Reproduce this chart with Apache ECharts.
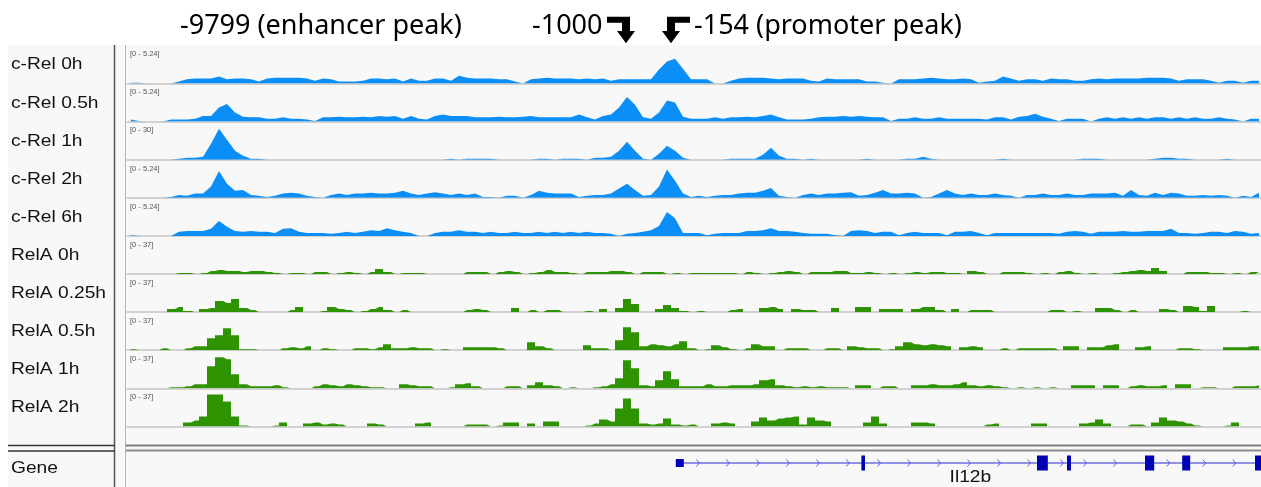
<!DOCTYPE html>
<html>
<head>
<meta charset="utf-8">
<title>c-Rel / RelA binding at Il12b</title>
<script src="https://cdn.jsdelivr.net/npm/echarts@6/dist/echarts.min.js"></script>
<style>
  html, body { margin: 0; padding: 0; background: #ffffff; }
  #chart { width: 1261px; height: 487px; }
</style>
</head>
<body>
<div id="chart"></div>
<script>
// ---- Track data: coverage per 8-px genomic bin, in each track's own units ----
const trackNames = ['c-Rel 0h', 'c-Rel 0.5h', 'c-Rel 1h', 'c-Rel 2h', 'c-Rel 6h',
                    'RelA 0h', 'RelA 0.25h', 'RelA 0.5h', 'RelA 1h', 'RelA 2h'];
const trackMax = [5.24, 5.24, 30, 5.24, 5.24, 37, 37, 37, 37, 37];
const rangeLabels = ['[0 - 5.24]', '[0 - 5.24]', '[0 - 30]', '[0 - 5.24]', '[0 - 5.24]',
                     '[0 - 37]', '[0 - 37]', '[0 - 37]', '[0 - 37]', '[0 - 37]'];

const cRel_0h = [
  0.1,0.1,0,0,0,0,0.3,0.6,0.7,0.7, 0.7,1.0,0.6,0.7,0.7,0.6,0.3,0.7,0.8,0.8,
  0.8,0.8,0.7,0.4,0.7,0.6,0.3,0.3,0.3,0.4, 0.7,0.7,0.6,0.7,0.3,0.7,0.4,0.4,0.7,0.7,
  0.4,1.1,0.8,0.7,0.7,0.7,0.6,0.6,0.3,0, 0.6,0.7,0.8,0.7,0.7,0.7,0.6,0.7,0.6,0.7,
  0.4,0.6,0.6,0.6,0.6,0.6,2.0,3.1,3.5,2.1, 0.6,0.6,0.6,0,0,0.4,0.7,0.8,0.8,0.8,
  0.7,0.6,0.7,0.7,0.7,0.4,0.3,0.7,0.6,0.6, 0.6,0.6,0.3,0.3,0.1,0,0.6,0.6,0.6,0.7,
  0.8,0.7,0.6,0.6,0.7,0.6,0.1,0.3,0.4,1.0, 0.7,0.4,0.6,0.6,0.4,0.7,0.6,0.6,0.4,0.4,
  0.6,0.7,0.6,0.7,0.7,0.7,0.7,0.8,0.8,0.8, 0.7,0.4,0.6,0.6,0.6,0.4,0.1,0.4,0.4,0.1,
  0.4,0.4
];
const cRel_05h = [
  0.3,0.1,0,0,0,0.3,0.3,0.3,0.4,0.8, 0.8,2.0,2.5,1.3,0.7,0.6,0.6,0.4,0.4,0.6,
  0.4,0.4,0.3,0.1,0.6,0.6,0.7,0.6,0.6,0.7, 0.6,0.8,0.7,0.8,0.4,0.8,0.4,0.3,0.8,1.0,
  0.8,0.8,0.8,0.6,0.6,0.6,0.7,0.6,0.6,0.7, 0.8,0.6,0.6,0.6,0.6,0.6,1.0,0.6,0.3,0.8,
  1.0,2.0,3.5,2.4,0.6,0.4,1.3,3.0,2.7,0.7, 0.4,0.4,0.4,0.6,0.4,0.6,0.6,0.7,0.6,0.8,
  1.0,0.6,0.3,0.3,0.3,0.4,0.6,0.7,0.7,0.8, 0.7,0.8,0.7,0.6,0.6,0.1,0.4,0.4,0.6,0.4,
  0.4,0.6,0.4,0.4,0.4,0.4,0.4,0.3,0.6,0.6, 0.3,0.7,0.8,1.1,0.7,0.4,0.1,0.4,0.4,0.4,
  0,0.4,0.6,0.4,0.6,0.4,0.6,0.4,0.6,0.6, 0.4,0.6,0.4,0.6,0.4,0.4,0.6,0.4,0.3,0,
  0.4,0.4
];
const cRel_1h = [
  0,0,0,0,0,0,0.8,1.6,1.6,2.4, 13,25.1,16.2,7.3,3.2,0.8,0.8,0,0,0,
  0,0,0,0,0,0,0,0,0,0, 0,0,0,0,0,0,0,0,0,0,
  0.8,0,0.8,0.8,0.8,0.8,0,0,0,0, 0,0.8,0.8,0,0.8,0.8,0.8,0,1.6,1.6,
  2.4,7.3,14.6,7.3,0.8,0,4.9,11.4,7.3,1.6, 0,0,0,0,0,0.8,0.8,0.8,0.8,4.1,
  9.7,3.2,0.8,0.8,0,0.8,0,0,0,0, 0,0,0.8,0,0,0,0,0.8,0.8,2.4,
  0.8,0,0,0,0,0,0,0,0,0.8, 0,0,0,0,0,0,0,0,0,0.8,
  0.8,0.8,0,0,0,0,0,0,0.8,1.6, 1.6,0.8,0.8,0,0,0,0,0.8,0,0,
  0,0.8
];
const cRel_2h = [
  0,0,0,0,0,0.1,0.4,0.3,0.6,0.6, 1.6,3.8,2.0,1.0,1.1,0.4,0.3,0.1,0.3,0.6,
  0.7,0.6,0.3,0.1,0,0.4,0.6,0.4,0.6,0.6, 0.7,0.6,0.6,0.7,1.0,0.6,0.4,0.6,0.8,0.6,
  0.4,0.6,0.4,0.6,0.1,0.1,0,0.3,0.3,0, 0.4,1.0,0.7,0.6,0.6,0.6,0.1,0.3,0.4,0.4,
  0.6,1.3,2.0,1.1,0.3,0.4,1.6,4.0,2.4,0.6, 0.1,0.3,0.1,0.3,0.4,0.4,0.6,0.7,0.7,1.0,
  1.4,0.3,0.1,0,0.4,0.6,0.4,0.6,0.6,0.7, 0.8,0.3,0.4,0.7,1.1,0.6,0.6,0.7,0.6,0,
  0.1,0.6,1.1,0.6,0.4,0.6,0.4,0.4,0.6,0.4, 0.3,0,0.4,0.4,0.6,0.4,0.4,0.6,0.4,0.4,
  0.6,0.6,0.6,0.7,0.3,1.1,0.4,0.3,0.7,0.4, 0.7,0.6,0.3,0.3,0.4,0.3,0.4,0.3,0,0.3,
  0.1,0.7
];
const cRel_6h = [
  0.1,0,0,0,0,0,0.6,0.7,0.7,0.7, 1.0,2.1,1.3,0.7,0.6,0.7,0.6,0.6,0.4,1.0,
  1.1,0.6,0.4,0.4,0.4,0.3,0.4,0.6,0.4,0.6, 0.8,0.7,1.1,0.8,0.6,0.4,0,0,0.4,0.6,
  0.6,0.8,0.6,0.6,0.4,0.6,0.4,0.4,0.6,0.4, 0.4,0.6,0.4,0.6,0.4,0.6,0.4,0.6,0.4,0.4,
  0.3,0,0.3,0.4,0.6,0.8,1.4,3.4,2.5,0.4, 0.4,0.4,0.1,0.3,0.4,0.4,0.4,0.7,0.7,0.8,
  1.1,0.7,0.7,0.6,0.4,0.3,0.3,0.3,0.1,0, 0.7,0.8,0.7,0.4,0.6,0.6,0.1,0.4,0.6,0.4,
  0.4,0.4,0.1,0.6,0.6,0.7,0.4,0.1,0.4,0.4, 0.4,0.4,0.4,0.4,0.4,0.4,0.3,0.6,0.7,0.6,
  0.3,0.6,0.6,0.6,0.7,0.6,0.6,0.7,0.7,0.7, 1.0,0.4,0.4,0.3,0.4,0.6,0.6,0.4,0.7,0.6,
  0.3,0.4
];
const relA_0h = [
  0,0,0,0,0,0,1,1,0,1, 3,4,3,3,2,3,3,2,1,0,
  1,1,0,2,2,0,1,2,1,0, 2,5,2,0,1,1,1,0,0,0,
  0,0,2,2,2,0,2,3,2,0, 1,2,4,2,2,1,0,2,2,2,
  3,3,2,0,2,2,2,0,1,0, 1,1,1,1,1,1,0,2,1,0,
  1,2,3,2,0,2,2,2,3,3, 1,1,2,1,0,1,0,1,2,1,
  2,2,1,1,0,3,2,0,0,2, 2,2,1,0,1,0,2,3,1,0,
  1,0,0,1,2,3,4,3,6,3, 0,0,2,2,2,1,1,0,1,0,
  2,2
];
const relA_025h = [
  0,0,0,0,0,3,5,1,0,3, 4,11,9,13,4,2,0,0,0,0,
  2,5,0,0,1,5,3,2,0,1, 3,5,2,0,2,0,0,0,0,0,
  0,0,2,3,2,0,0,0,4,0, 2,0,2,2,0,0,0,1,0,3,
  0,4,13,8,0,0,3,7,4,1, 0,1,0,0,0,2,3,0,0,4,
  5,3,0,3,2,2,0,0,4,0, 0,5,5,0,3,3,3,0,3,5,
  5,2,0,3,0,2,2,2,0,0, 0,0,0,0,0,2,2,0,1,0,
  0,4,4,2,0,2,0,0,0,3, 2,0,6,5,1,6,0,0,0,1,
  0,0
];
const relA_05h = [
  1,0,0,0,2,0,0,2,4,4, 12,15,22,15,1,1,0,0,0,2,
  3,2,4,0,2,1,0,0,2,2, 1,3,6,2,2,3,2,2,0,1,
  0,0,3,3,3,3,2,0,0,0, 8,4,2,0,0,0,0,5,2,2,
  0,10,23,18,4,6,5,4,6,9, 2,0,1,5,3,1,0,2,6,4,
  4,0,2,2,2,0,0,2,2,0, 4,3,2,2,0,1,4,8,6,5,
  6,5,4,0,3,4,3,0,0,2, 0,2,2,2,2,2,0,4,4,0,
  3,3,5,6,0,0,3,4,0,0, 0,2,2,1,0,0,0,3,3,3,
  4,4
];
const relA_1h = [
  0,0,0,0,0,1,1,2,4,4, 22,31,29,14,4,2,2,2,3,1,
  0,0,0,2,4,3,2,4,3,2, 1,1,0,0,4,3,2,2,0,0,
  1,4,5,2,0,0,0,2,2,0, 3,6,3,2,0,1,0,0,1,2,
  4,10,28,20,3,2,8,17,9,2, 2,2,4,2,2,3,3,3,4,8,
  9,3,2,1,2,1,2,1,1,1, 0,3,3,0,2,2,0,0,3,3,
  4,3,3,4,6,3,2,3,2,1, 0,1,0,1,0,1,0,0,3,3,
  3,0,3,3,0,2,3,2,2,3, 0,4,4,0,1,1,0,0,2,2,
  2,3
];
const relA_2h = [
  0,0,0,0,0,0,0,4,6,10, 32,32,25,10,1,0,0,0,1,4,
  0,0,3,4,2,3,2,0,0,0, 3,2,0,0,0,0,3,4,0,0,
  0,0,2,2,2,0,1,4,4,0, 3,0,5,5,0,0,0,1,3,7,
  5,18,28,18,3,2,3,8,2,1, 2,0,0,3,4,3,0,0,5,9,
  6,8,9,10,2,9,6,5,0,0, 0,0,4,10,3,0,0,0,4,4,
  3,0,0,0,0,0,0,2,3,0, 0,0,0,3,3,0,0,0,0,3,
  4,7,3,0,0,2,2,0,4,9, 6,5,3,1,0,0,0,1,4,0,
  0,0
];
const trackValues = [cRel_0h, cRel_05h, cRel_1h, cRel_2h, cRel_6h,
                     relA_0h, relA_025h, relA_05h, relA_1h, relA_2h];

// ---- Gene model (same bin coordinates as the tracks) ----
const geneName = 'Il12b';
const geneSpan = [69.1, 141.75];
const geneExons = [
  [68.6, 69.6, 'utr'], [91.8, 92.25, 'cds'], [113.75, 115.1, 'cds'], [117.5, 118.0, 'cds'],
  [127.25, 128.4, 'cds'], [131.9, 132.9, 'cds'], [141.0, 141.75, 'cds']
];

// ---- Header annotations ----
const headerLabels = [
  { text: '-9799 (enhancer peak)', x: 180 },
  { text: '-1000', x: 532 },
  { text: '-154 (promoter peak)', x: 694 }
];

// ---- Layout ----
const PLOT_LEFT = 127, PLOT_RIGHT = 1261, BIN_PX = 8;
const X_MAX = (PLOT_RIGHT - PLOT_LEFT) / BIN_PX;
const FIRST_BASE = 83.5, TRACK_STEP = 38.1, TRACK_H = 37;
const BLUE = '#0b8ff7', GREEN = '#2e9300';
const LABEL_FONT = '16px "Liberation Sans", Arial, sans-serif';

const grids = [], xAxes = [], yAxes = [], series = [], graphics = [];

// panel background and frame
graphics.push({ type: 'rect', z: -10, shape: { x: 8, y: 45, width: 1253, height: 442 },
                style: { fill: '#f8f8f8' }, silent: true });

trackNames.forEach((name, i) => {
  const base = FIRST_BASE + i * TRACK_STEP;
  const isRelA = name.startsWith('RelA');
  const color = isRelA ? GREEN : BLUE;
  grids.push({ left: PLOT_LEFT, top: base - TRACK_H, width: PLOT_RIGHT - PLOT_LEFT, height: TRACK_H });
  xAxes.push({
    gridIndex: i, type: 'value', min: 0, max: X_MAX,
    axisLine: { show: true, onZero: false, lineStyle: { color: '#c4c4c4', width: 1.5 } },
    axisTick: { show: false }, axisLabel: { show: false }, splitLine: { show: false }
  });
  yAxes.push({ gridIndex: i, type: 'value', min: 0, max: trackMax[i], show: false });
  series.push({
    type: 'line', name, xAxisIndex: i, yAxisIndex: i,
    data: trackValues[i].map((v, k) => [k + 0.5, v]),
    symbol: 'none', step: isRelA ? 'middle' : false, smooth: false,
    lineStyle: { width: 0, opacity: 0 }, areaStyle: { color, opacity: 1 },
    silent: true, animation: false, z: 3
  });
  graphics.push({ type: 'text', x: 11, y: base - 18.5, scaleX: 1.2, silent: true,
    style: { text: name, font: LABEL_FONT, fill: '#111', verticalAlign: 'middle' } });
  graphics.push({ type: 'text', x: 130, y: base - 29.3, silent: true,
    style: { text: rangeLabels[i], font: '7.5px "Liberation Sans", Arial, sans-serif',
             fill: '#555', verticalAlign: 'middle' } });
});

// gene track
const gi = trackNames.length;
grids.push({ left: PLOT_LEFT, top: 451, width: PLOT_RIGHT - PLOT_LEFT, height: 24 });
xAxes.push({ gridIndex: gi, type: 'value', min: 0, max: X_MAX, show: false });
yAxes.push({ gridIndex: gi, type: 'value', min: -1, max: 1, show: false });
series.push({
  type: 'custom', xAxisIndex: gi, yAxisIndex: gi, silent: true, animation: false,
  data: [[geneSpan[0], geneSpan[1]]],
  renderItem(params, api) {
    const y = api.coord([0, 0])[1];
    const x0 = api.coord([api.value(0), 0])[0];
    const x1 = api.coord([api.value(1), 0])[0];
    const kids = [{ type: 'line', shape: { x1: x0, y1: y, x2: x1, y2: y },
                    style: { stroke: '#2a2ad0', lineWidth: 1.2 } }];
    const ex = geneExons.map(e => [api.coord([e[0], 0])[0], api.coord([e[1], 0])[0], e[2]]);
    // strand chevrons along each intron
    for (let k = 0; k < ex.length - 1; k++) {
      const s = ex[k][1], e = ex[k + 1][0];
      for (let cx = s + 14; cx < e - 5; cx += 30) {
        kids.push({ type: 'polyline',
          shape: { points: [[cx - 1.5, y - 3.5], [cx + 1.5, y], [cx - 1.5, y + 3.5]] },
          style: { stroke: '#5a5aff', lineWidth: 1, fill: null } });
      }
    }
    ex.forEach(([a, b, t]) => {
      const h = t === 'utr' ? 4 : 7.5;
      kids.push({ type: 'rect', shape: { x: a, y: y - h, width: Math.max(b - a, 2), height: 2 * h },
                  style: { fill: '#0000b4' } });
    });
    kids.push({ type: 'text', x: (x0 + x1) / 2, y: y + 14.5, scaleX: 1.2,
      style: { text: geneName, font: LABEL_FONT, fill: '#111', align: 'center', verticalAlign: 'middle' } });
    return { type: 'group', children: kids };
  }
});
graphics.push({ type: 'text', x: 11, y: 469, scaleX: 1.2, silent: true,
  style: { text: 'Gene', font: LABEL_FONT, fill: '#111', verticalAlign: 'middle' } });

// panel dividers
const line = (x1, y1, x2, y2, stroke, w) => ({ type: 'line', silent: true, z: 5,
  shape: { x1, y1, x2, y2 }, style: { stroke, lineWidth: w } });
graphics.push(line(114.5, 45, 114.5, 487, '#555', 1.5));
graphics.push(line(125.5, 45, 125.5, 487, '#b4b4b4', 1));
graphics.push(line(8, 445.5, 115, 445.5, '#333', 1.5));
graphics.push(line(8, 451, 115, 451, '#333', 1.5));
graphics.push(line(126, 445.5, 1261, 445.5, '#7c7c7c', 2));
graphics.push(line(126, 450.5, 1261, 450.5, '#8c8c8c', 2));

// header annotations and bent arrows
headerLabels.forEach(h => graphics.push({ type: 'text', x: h.x, y: 26, silent: true,
  style: { text: h.text, font: '27px "Noto Sans", sans-serif', fill: '#000', verticalAlign: 'middle' } }));
graphics.push({ type: 'polygon', silent: true, style: { fill: '#000' },
  shape: { points: [[607, 16.7], [630, 16.7], [630, 32], [622, 32], [622, 22.7], [607, 22.7]] } });
graphics.push({ type: 'polygon', silent: true, style: { fill: '#000' },
  shape: { points: [[617, 31], [635, 31], [626, 43.3]] } });
graphics.push({ type: 'polygon', silent: true, style: { fill: '#000' },
  shape: { points: [[690, 16.7], [667, 16.7], [667, 32], [675, 32], [675, 22.7], [690, 22.7]] } });
graphics.push({ type: 'polygon', silent: true, style: { fill: '#000' },
  shape: { points: [[662, 31], [680, 31], [671, 43.3]] } });

const chart = echarts.init(document.getElementById('chart'), null, { renderer: 'canvas' });
chart.setOption({
  backgroundColor: '#ffffff',
  animation: false,
  grid: grids, xAxis: xAxes, yAxis: yAxes, series,
  graphic: { elements: graphics }
});
</script>
</body>
</html>
